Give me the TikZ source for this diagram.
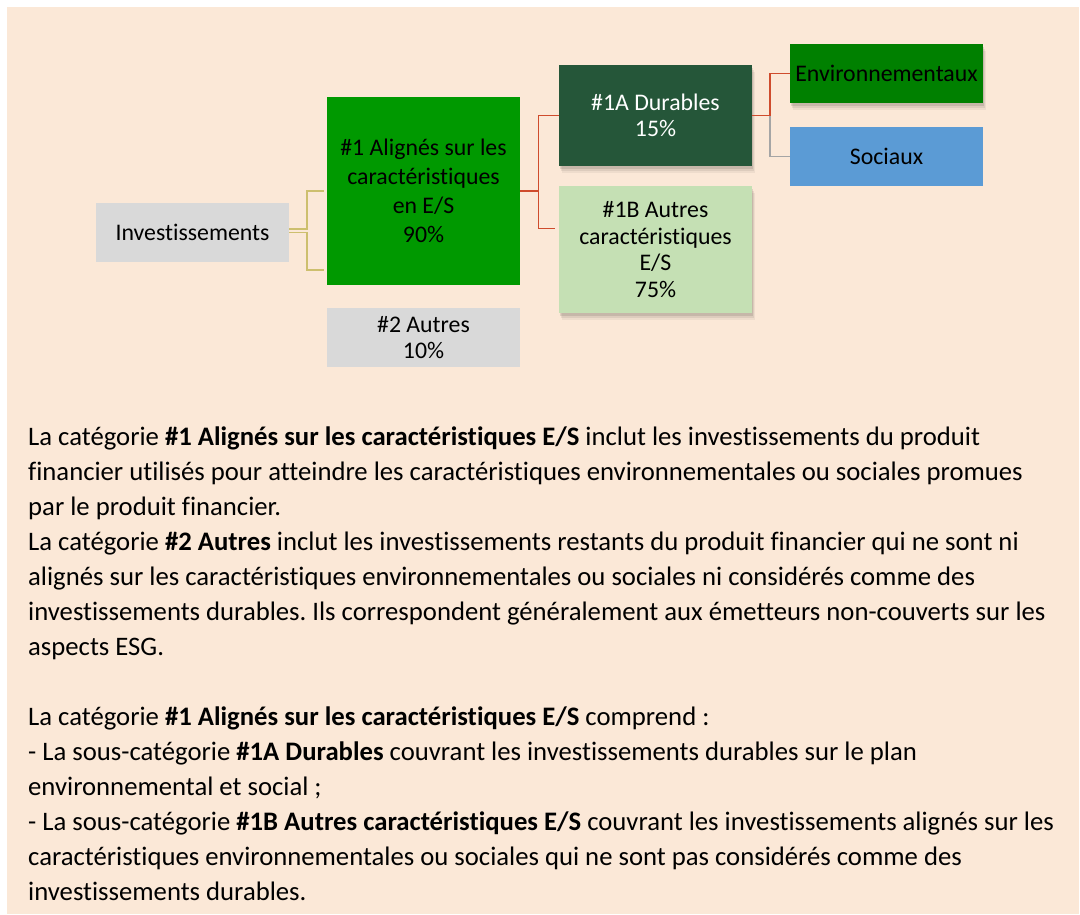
\documentclass[tikz,border=0pt]{standalone}
\usepackage{fontspec}
\setmainfont{Carlito}[Ligatures={NoCommon}]
\usetikzlibrary{shadows}
\frenchspacing
\definecolor{bgpeach}{HTML}{FBE8D7}
\definecolor{boxgray}{HTML}{D9D9D9}
\definecolor{greenA}{HTML}{009900}
\definecolor{darkgreen}{HTML}{255639}
\definecolor{lightgreen}{HTML}{C5E0B4}
\definecolor{envgreen}{HTML}{008000}
\definecolor{socblue}{HTML}{5B9BD5}
\definecolor{khaki}{HTML}{CDBF6E}
\definecolor{redline}{HTML}{CF4B2C}
\definecolor{grayline}{HTML}{A5A5A5}
\newcommand\dfont{\fontsize{23.8}{29}\selectfont}
\newcommand\dfontb{\fontsize{23.8}{26.5}\selectfont}
\newcommand\bodyfont{\fontsize{26.7}{35}\selectfont}
\tikzset{
  box/.style={rectangle, inner sep=0pt, minimum width=193pt, align=center},
  shad/.style={
    drop shadow={shadow xshift=3pt, shadow yshift=-7pt, opacity=0.05, fill=black},
    drop shadow={shadow xshift=2pt, shadow yshift=-5pt, opacity=0.07, fill=black},
    drop shadow={shadow xshift=1pt, shadow yshift=-3pt, opacity=0.10, fill=black}},
  kline/.style={draw=khaki, line width=1.6pt},
  rline/.style={draw=redline, line width=1.8pt},
  gline/.style={draw=grayline, line width=1.4pt},
  bodyline/.style={anchor=base west, inner sep=0pt, font=\bodyfont}
}
\begin{document}
\begin{tikzpicture}[x=1pt,y=-1pt]
\useasboundingbox (0,0) rectangle (1080,914);
\fill[white] (0,0) rectangle (1080,914);
\fill[bgpeach] (7,7) rectangle (1079,914);

\node[box, fill=boxgray, minimum height=59pt, font=\dfont] (inv) at (192.5,232.5) {Investissements};
\node[box, fill=greenA, minimum height=188pt, font=\dfont] (n1) at (423.5,191) {\#1 Alignés sur les\\caractéristiques\\en E/S\\90\%};
\node[box, fill=boxgray, minimum height=59pt, font=\dfontb] (n2) at (423.5,337.5) {\#2 Autres\\10\%};
\node[box, shad, fill=darkgreen, text=white, minimum height=101pt, font=\dfontb] (n1a) at (655.5,115.5) {\#1A Durables\\15\%};
\node[box, shad, fill=lightgreen, minimum height=127pt, font=\dfontb] (n1b) at (655.5,249.5) {\#1B Autres\\caractéristiques\\E/S\\75\%};
\node[box, shad, fill=envgreen, minimum height=59pt, font=\dfont] (env) at (886.5,73.5) {Environnementaux};
\node[box, fill=socblue, minimum height=59pt, font=\dfont] (soc) at (886.5,156.5) {Sociaux};

\coordinate (jL) at (306.7,232);
\coordinate (c2) at (324,270);
\coordinate (jR) at (538.5,191);
\coordinate (c3) at (555,228.5);
\coordinate (jE) at (770,115);

\draw[kline] ([yshift=3.5pt]inv.east) -| (jL |- n1.west) -- ([xshift=-3pt]n1.west);
\draw[kline] ([yshift=0.2pt]inv.east) -| (jL |- c2) -- (c2);
\draw[rline] (n1.east) -| (jR |- n1a.west) -- (n1a.west);
\draw[rline] (n1.east) -| (jR |- c3) -- (c3);
\draw[gline] (n1a.east) -| (jE |- soc.west) -- (soc.west);
\draw[rline] (n1a.east) -| (jE |- env.west) -- (env.west);

\node[bodyline] (t1) at (28,445) {La catégorie \textbf{\#1 Alignés sur les caractéristiques E/S} inclut les investissements du produit};
\node[bodyline] (t2) at (28,480) {financier utilisés pour atteindre les caractéristiques environnementales ou sociales promues};
\node[bodyline] (t3) at (28,515) {par le produit financier.};
\node[bodyline] (t4) at (28,550) {La catégorie \textbf{\#2 Autres} inclut les investissements restants du produit financier qui ne sont ni};
\node[bodyline] (t5) at (28,585) {alignés sur les caractéristiques environnementales ou sociales ni considérés comme des};
\node[bodyline] (t6) at (28,620) {investissements durables. Ils correspondent généralement aux émetteurs non-couverts sur les};
\node[bodyline] (t7) at (28,655) {aspects ESG.};
\node[bodyline] (t8) at (28,725) {La catégorie \textbf{\#1 Alignés sur les caractéristiques E/S} comprend :};
\node[bodyline] (t9) at (28,760) {- La sous-catégorie \textbf{\#1A Durables} couvrant les investissements durables sur le plan};
\node[bodyline] (t10) at (28,795) {environnemental et social ;};
\node[bodyline] (t11) at (28,830) {- La sous-catégorie \textbf{\#1B Autres caractéristiques E/S} couvrant les investissements alignés sur les};
\node[bodyline] (t12) at (28,865) {caractéristiques environnementales ou sociales qui ne sont pas considérés comme des};
\node[bodyline] (t13) at (28,900) {investissements durables.};
\end{tikzpicture}
\end{document}
